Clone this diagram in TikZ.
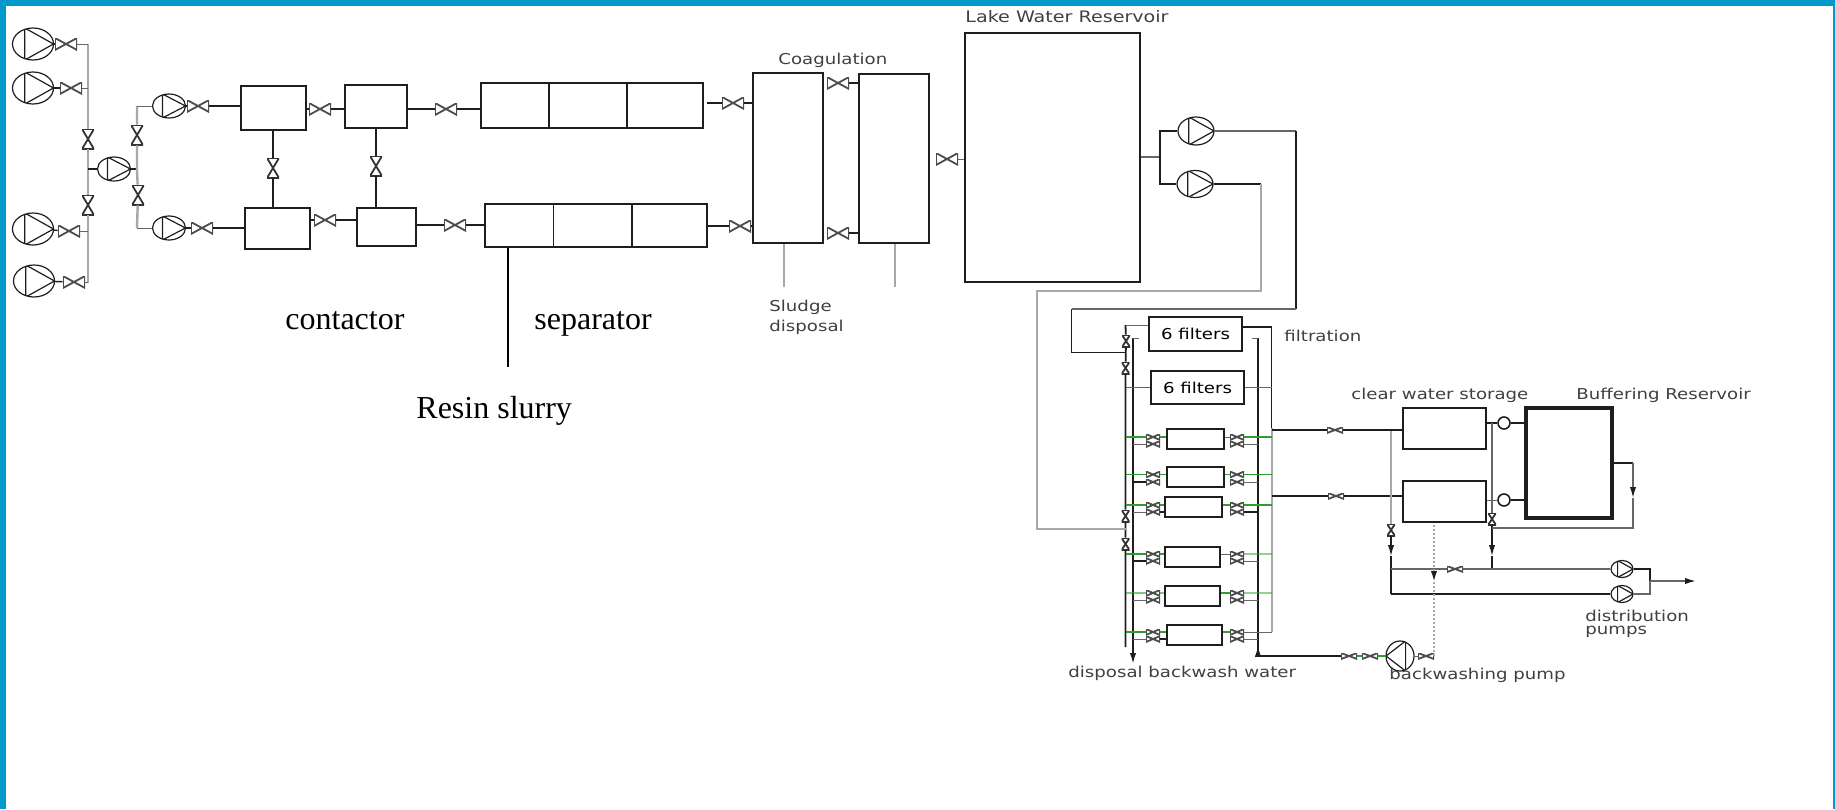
\documentclass[tikz,border=0pt]{standalone}
\usepackage{fontspec}
\setmainfont{Liberation Serif}
\setsansfont{DejaVu Sans}[FakeStretch=1.21]
\usepackage{xcolor}
\definecolor{FrameBlue}{HTML}{0099CC}
\definecolor{PipeGray}{HTML}{A8A8A8}
\definecolor{InkDark}{HTML}{1E1E1E}
\definecolor{RowGreen}{HTML}{2E9E2E}
\usetikzlibrary{arrows.meta,positioning,shapes.geometric,calc}

\begin{document}
\begin{tikzpicture}[x=0.5pt,y=-0.5pt,>={Latex[length=5.5pt,width=3.2pt,color=InkDark]},
unit/.style={draw=InkDark,line width=0.8pt,inner sep=0pt,minimum width=#1},
pipe/.style={draw=InkDark,line width=0.7pt},
thinpipe/.style={draw=black!60,line width=0.5pt},
graypipe/.style={draw=PipeGray,line width=1.2pt},
greenpipe/.style={draw=RowGreen,line width=0.7pt},
valve/.style={inner sep=0pt,minimum width=11pt,minimum height=6pt,path picture={
  \draw[black!70,line width=0.9pt] (path picture bounding box.north west) -- (path picture bounding box.south east) -- (path picture bounding box.north east) -- (path picture bounding box.south west) -- cycle;}},
vvalve/.style={inner sep=0pt,minimum width=6pt,minimum height=10pt,path picture={
  \draw[black!80,line width=0.9pt] (path picture bounding box.north west) -- (path picture bounding box.south east) -- (path picture bounding box.south west) -- (path picture bounding box.north east) -- cycle;}},
rowvalve/.style={valve,minimum width=7pt,minimum height=3pt},
tapvalve/.style={vvalve,minimum width=4pt,minimum height=6pt},
pump/.style 2 args={ellipse,draw=InkDark,line width=0.6pt,inner sep=0pt,minimum width=#1,minimum height=#2,path picture={
  \draw[InkDark,line width=0.6pt] ($(path picture bounding box.north west)!.3!(path picture bounding box.north east)$) -- (path picture bounding box.east) -- ($(path picture bounding box.south west)!.3!(path picture bounding box.south east)$) -- cycle;}},
backpump/.style={ellipse,draw=InkDark,line width=0.6pt,inner sep=0pt,minimum width=14pt,minimum height=15pt,path picture={
  \draw[InkDark,line width=0.6pt] ($(path picture bounding box.north east)!.3!(path picture bounding box.north west)$) -- (path picture bounding box.west) -- ($(path picture bounding box.south east)!.3!(path picture bounding box.south west)$) -- cycle;}},
tinypump/.style={circle,draw=InkDark,line width=0.8pt,inner sep=0pt,minimum size=6pt},
lbl/.style={font=\sffamily\fontsize{7.5}{8}\selectfont,text=black!75,inner sep=0pt,anchor=west},
big/.style={font=\fontsize{16}{18}\selectfont,inner sep=0pt,anchor=west}]
\useasboundingbox (0,0) rectangle (1835,809);
\fill[FrameBlue] (0,0) rectangle (1835,6);
\fill[FrameBlue] (0,0) rectangle (6,809);
\fill[FrameBlue] (1833,0) rectangle (1835,809);
% intake pumps
\node[pump={20.5pt}{16pt}] (p1) at (33,44) {};
\node[pump={20.5pt}{16pt}] (p2) at (33,88) {};
\node[pump={20.5pt}{16pt}] (p3) at (33,229) {};
\node[pump={20.5pt}{16pt}] (p4) at (34,281) {};
\node[valve] (v1) at (66,44) {};
\node[valve] (v2) at (71,88) {};
\node[valve] (v3) at (69,231) {};
\node[valve] (v4) at (74,282) {};
\coordinate (hdrAt) at (88,44);
\coordinate (hdrAb) at (88,283);
\node[vvalve] (hv1) at (88,139) {};
\node[vvalve] (hv2) at (88,205) {};
\node[pump={16.5pt}{12pt}] (p5) at (114,169) {};
\coordinate (hdrBm) at (137,169);
\coordinate (hdrBt) at (137,106);
\coordinate (hdrBb) at (137,228);
\node[vvalve] (hv3) at (137,135) {};
\node[vvalve] (hv4) at (138,195) {};
\node[pump={16.5pt}{12pt}] (p6) at (169,106) {};
\node[pump={16.5pt}{12pt}] (p7) at (169,228) {};
\node[valve] (v6) at (198,106) {};
\node[valve] (v7) at (202,228) {};
\draw[pipe] (p1) -- (v1);
\draw[pipe] (p2) -- (v2);
\draw[pipe] (p3) -- (v3);
\draw[pipe] (p4) -- (v4);
\draw[graypipe] (hdrAt) -- (hv1) -- (hv2) -- (hdrAb);
\draw[thinpipe] (v1) -- (hdrAt);
\draw[thinpipe] (v2) -- (v2 -| hdrAt);
\draw[thinpipe] (v3) -- (v3 -| hdrAt);
\draw[thinpipe] (v4) -- (v4 -| hdrAt);
\draw[pipe] (p5 -| hdrAt) -- (p5);
\draw[pipe] (p5) -- (hdrBm);
\draw[graypipe] (hdrBt) -- (hv3) -- (hdrBm) -- (hv4) -- (hdrBb);
\draw[thinpipe] (hdrBt) -- (p6);
\draw[thinpipe] (hdrBb) -- (p7);
\draw[pipe] (p6) -- (v6);
\draw[pipe] (p7) -- (v7);
% contactors and separators
\node[unit=32.5pt,minimum height=22pt] (con1) at (273.5,108) {};
\node[unit=31pt,minimum height=21.5pt] (con2) at (376,106.5) {};
\node[unit=32.5pt,minimum height=20.5pt] (con3) at (277.5,228.5) {};
\node[unit=29.5pt,minimum height=19pt] (con4) at (386.5,227) {};
\node[valve] (v8) at (320,109) {};
\node[valve] (v9) at (325,220) {};
\node[valve] (v10) at (446,109) {};
\node[valve] (v11) at (455,225) {};
\node[vvalve] (v12) at (273,168) {};
\node[vvalve] (v13) at (376,166) {};
\node[unit=34pt,minimum height=22.5pt] (sep1a) at (515,105.5) {};
\node[unit=39pt,minimum height=22.5pt] (sep1b) at (588,105.5) {};
\node[unit=38pt,minimum height=22.5pt] (sep1c) at (665,105.5) {};
\node[unit=34.25pt,minimum height=21.5pt] (sep2a) at (519.25,225.5) {};
\node[unit=39.25pt,minimum height=21.5pt] (sep2b) at (592.75,225.5) {};
\node[unit=37.5pt,minimum height=21.5pt] (sep2c) at (669.5,225.5) {};
\draw[pipe] (v6) -- (v6 -| con1.west);
\draw[pipe] (v7) -- (v7 -| con3.west);
\draw[pipe] (con1.east |- v8) -- (v8);
\draw[pipe] (v8) -- (v8 -| con2.west);
\draw[pipe] (con3.east |- v9) -- (v9);
\draw[pipe] (v9) -- (v9 -| con4.west);
\draw[pipe] (con2.east |- v10) -- (v10);
\draw[pipe] (v10) -- (v10 -| sep1a.west);
\draw[pipe] (con4.east |- v11) -- (v11);
\draw[pipe] (v11) -- (v11 -| sep2a.west);
\draw[line width=1pt,InkDark] (v12 |- con1.south) -- (v12);
\draw[line width=1pt,InkDark] (v12) -- (v12 |- con3.north);
\draw[line width=1pt,InkDark] (con2.south -| v13) -- (v13);
\draw[line width=1pt,InkDark] (v13) -- (v13 |- con4.north);
% resin feed
\coordinate (resinEnd) at (508,367);
\draw[line width=1.1pt,black] (resinEnd |- sep2a.south) -- (resinEnd);
% coagulation
\node[unit=35pt,minimum height=85pt] (coag1) at (788,158) {};
\node[unit=35pt,minimum height=84.5pt] (coag2) at (894,158.5) {};
\node[valve] (v14) at (733,103) {};
\node[valve] (v15) at (740,226) {};
\node[valve] (v16) at (838,83) {};
\node[valve] (v17) at (838,233) {};
\node[valve] (v18) at (947,159) {};
\coordinate (sludgeA) at (784,287);
\coordinate (sludgeB) at (895,287);
\draw[pipe] (sep1c.east |- v14) ++(3,0) -- (v14);
\draw[pipe] (v14) -- (v14 -| coag1.west);
\draw[pipe] (sep2c.east |- v15) -- (v15);
\draw[pipe] (v15) -- (v15 -| coag1.west);
\draw[pipe] (v16) -- (v16 -| coag2.west);
\draw[pipe] (v17) -- (v17 -| coag2.west);
\draw[graypipe] (sludgeA |- coag1.south) -- (sludgeA);
\draw[graypipe,line width=0.9pt] (sludgeB |- coag2.south) -- (sludgeB);
% lake reservoir and its pumps
\node[unit=87.5pt,minimum height=124.5pt] (lake) at (1052.5,157.5) {};
\node[pump={18pt}{14pt}] (p8) at (1196,131) {};
\node[pump={18pt}{13.5pt}] (p9) at (1195,184) {};
\coordinate (hdrC) at (1160,157);
\draw[thinpipe] (v18) -- (v18 -| lake.west);
\draw[thinpipe,line width=0.9pt] (lake.east |- hdrC) -- (hdrC);
\draw[pipe] (hdrC) |- (p8);
\draw[pipe] (hdrC) |- (p9);
% filters
\coordinate (hdrLt) at (1125.5,325);
\coordinate (hdrLb) at (1125.5,647);
\coordinate (hdrMt) at (1133,338);
\coordinate (hdrMb) at (1133,664);
\coordinate (hdrRt) at (1258,338);
\coordinate (hdrRb) at (1258,656);
\coordinate (hdrOt) at (1271.5,327);
\coordinate (hdrOb) at (1271.5,632);
\node[unit=46.5pt,minimum height=17pt,font=\sffamily\fontsize{7.5}{8}\selectfont] (flt1) at (1195.5,334) {6 filters};
\node[unit=46.5pt,minimum height=16.5pt,font=\sffamily\fontsize{7.5}{8}\selectfont] (flt2) at (1197.5,387.5) {6 filters};
\node[unit=28.5pt,minimum height=10pt] (flt3) at (1195.5,439) {};
\node[unit=28.5pt,minimum height=10pt] (flt4) at (1195.5,477) {};
\node[unit=28.5pt,minimum height=10pt] (flt5) at (1193.5,507) {};
\node[unit=27.5pt,minimum height=10pt] (flt6) at (1192.5,557) {};
\node[unit=27.5pt,minimum height=10pt] (flt7) at (1192.5,596) {};
\node[unit=27.5pt,minimum height=10pt] (flt8) at (1194.5,635) {};
\node[tapvalve] (tv1) at (1126,341) {};
\node[tapvalve] (tv2) at (1125.5,368) {};
\node[tapvalve] (tv3) at (1125.5,516) {};
\node[tapvalve] (tv4) at (1125.5,544) {};
\draw[pipe,line width=0.9pt] (hdrLt) -- (tv1) -- (tv2) -- (tv3) -- (tv4) -- (hdrLb);
\draw[pipe,line width=0.9pt,->] (hdrMt) -- (hdrMb);
\draw[pipe,line width=0.9pt] (hdrRt) -- (hdrRb);
\draw[pipe] (hdrOt) -- (hdrOt |- flt3.north);
\draw[graypipe,line width=1pt] (hdrOt |- flt3.north) -- (hdrOb);
\draw[pipe] (hdrOt) -- (hdrOt -| flt1.east);
\draw[thinpipe] (hdrLt) -- (hdrLt -| flt1.west);
\draw[thinpipe] (hdrLt |- flt2) -- (flt2);
\draw[thinpipe] (flt2) -- (hdrOt |- flt2);
\draw[thinpipe,dashed] (hdrMt) -- ++(12,0);
\draw[thinpipe,dashed] (hdrRt) -- ++(-12,0);
% filter rows
\node[rowvalve] (a1) at (1153,437) {};
\node[rowvalve] (b1) at (1153,444) {};
\node[rowvalve] (c1) at (1237,437) {};
\node[rowvalve] (d1) at (1237,444) {};
\draw[greenpipe] (hdrLt |- a1) -- (a1);
\draw[greenpipe] (a1) -- (a1 -| flt3.west);
\draw[thinpipe] (hdrMt |- b1) -- (b1);
\draw[thinpipe] (flt3.east |- c1) -- (c1);
\draw[greenpipe] (c1) -- (hdrOt |- c1);
\draw[thinpipe] (d1) -- (hdrRt |- d1);
\node[rowvalve] (a2) at (1153,474.5) {};
\node[rowvalve] (b2) at (1153,482) {};
\node[rowvalve] (c2) at (1237,474.5) {};
\node[rowvalve] (d2) at (1237,482) {};
\draw[greenpipe] (hdrLt |- a2) -- (a2);
\draw[greenpipe] (a2) -- (a2 -| flt4.west);
\draw[pipe] (hdrMt |- b2) -- (b2);
\draw[greenpipe] (flt4.east |- c2) -- (c2);
\draw[greenpipe] (c2) -- (hdrOt |- c2);
\draw[thinpipe] (d2) -- (hdrRt |- d2);
\node[rowvalve] (a3) at (1153,505) {};
\node[rowvalve] (b3) at (1153,512) {};
\node[rowvalve] (c3) at (1237,505) {};
\node[rowvalve] (d3) at (1237,512) {};
\draw[greenpipe] (hdrLt |- a3) -- (a3);
\draw[greenpipe] (a3) -- (a3 -| flt5.west);
\draw[thinpipe] (hdrMt |- b3) -- (b3);
\draw[pipe] (b3) -- (b3 -| flt5.west);
\draw[greenpipe] (flt5.east |- c3) -- (c3);
\draw[greenpipe] (c3) -- (hdrOt |- c3);
\draw[pipe] (d3) -- (hdrRt |- d3);
\node[rowvalve] (a4) at (1153,554) {};
\node[rowvalve] (b4) at (1153,561) {};
\node[rowvalve] (c4) at (1237,554) {};
\node[rowvalve] (d4) at (1237,561) {};
\draw[greenpipe] (hdrLt |- a4) -- (a4);
\draw[greenpipe] (a4) -- (a4 -| flt6.west);
\draw[pipe] (hdrMt |- b4) -- (b4);
\draw[thinpipe] (flt6.east |- c4) -- (c4);
\draw[greenpipe,opacity=.5] (c4) -- (hdrOt |- c4);
\draw[thinpipe] (d4) -- (hdrRt |- d4);
\node[rowvalve] (a5) at (1153,593) {};
\node[rowvalve] (b5) at (1153,600) {};
\node[rowvalve] (c5) at (1237,593) {};
\node[rowvalve] (d5) at (1237,600) {};
\draw[greenpipe,opacity=.6] (hdrLt |- a5) -- (a5);
\draw[greenpipe,opacity=.6] (a5) -- (a5 -| flt7.west);
\draw[thinpipe] (hdrMt |- b5) -- (b5);
\draw[greenpipe] (flt7.east |- c5) -- (c5);
\draw[greenpipe,opacity=.5] (c5) -- (hdrOt |- c5);
\draw[thinpipe] (d5) -- (hdrRt |- d5);
\node[rowvalve] (a6) at (1153,632) {};
\node[rowvalve] (b6) at (1153,639) {};
\node[rowvalve] (c6) at (1237,632) {};
\node[rowvalve] (d6) at (1237,639) {};
\draw[greenpipe] (hdrLt |- a6) -- (a6);
\draw[greenpipe] (a6) -- (a6 -| flt8.west);
\draw[thinpipe] (hdrMt |- b6) -- (b6);
\draw[pipe] (b6) -- (b6 -| flt8.west);
\draw[greenpipe] (flt8.east |- c6) -- (c6);
\draw[thinpipe] (c6) -- (hdrOt |- c6);
\draw[thinpipe] (d6) -- (hdrRt |- d6);
% feed lines from lake pumps
\coordinate (feedA) at (1296,131);
\coordinate (feedB) at (1296,309);
\coordinate (feedC) at (1071.5,309);
\coordinate (feedD) at (1071.5,352.5);
\coordinate (feedE) at (1261,184);
\coordinate (feedF) at (1261,291);
\coordinate (feedG) at (1037,291);
\coordinate (feedH) at (1037,529);
\draw[thinpipe,line width=.8pt] (p8) -- (feedA);
\draw[pipe] (feedA) -- (feedB);
\draw[thinpipe,line width=.8pt] (feedB) -- (feedC);
\draw[pipe] (feedC) -- (feedD) -- (hdrLt |- feedD);
\draw[pipe] (p9) -- (feedE);
\draw[graypipe] (feedE) -- (feedF) -- (feedG) -- (feedH) -- (hdrLt |- feedH);
% clear water storage
\node[unit=41.5pt,minimum height=20.5pt] (store1) at (1444.5,428.5) {};
\node[unit=41.5pt,minimum height=20.5pt] (store2) at (1444.5,501.5) {};
\node[unit=43pt,minimum height=55pt,line width=1.8pt] (buffer) at (1569,463) {};
\node[rowvalve,minimum width=8pt] (v19) at (1335,430) {};
\node[rowvalve,minimum width=8pt] (v20) at (1336,496) {};
\node[tinypump] (sp1) at (1504,423) {};
\node[tinypump] (sp2) at (1504,500) {};
\draw[pipe] (hdrOt |- v19) -- (v19);
\draw[pipe] (v19) -- (v19 -| store1.west);
\draw[pipe] (hdrOt |- v20) -- (v20);
\draw[pipe] (v20) -- (v20 -| store2.west);
\draw[pipe] (store1.east |- sp1) -- (sp1);
\draw[pipe] (sp1) -- (sp1 -| buffer.west);
\draw[thinpipe] (store2.east |- sp2) -- (sp2);
\draw[pipe] (sp2) -- (sp2 -| buffer.west);
% distribution side
\coordinate (vertA) at (1391,431);
\coordinate (arrA) at (1391,556);
\coordinate (vertB) at (1391,594);
\coordinate (vertC) at (1492,423);
\coordinate (arrC) at (1492,556);
\coordinate (vertD) at (1492,569);
\coordinate (retA) at (1633,463);
\coordinate (arrR) at (1633,498);
\coordinate (retB) at (1633,528);
\coordinate (retC) at (1492,528);
\coordinate (outJ) at (1650,581);
\coordinate (outEnd) at (1696,581);
\node[tapvalve] (v21) at (1391,530) {};
\node[tapvalve] (v22) at (1492,519) {};
\node[rowvalve,minimum width=8pt] (v23) at (1455,569) {};
\node[pump={11pt}{8.5pt}] (p10) at (1622,569) {};
\node[pump={11pt}{8.5pt}] (p11) at (1622,594) {};
\draw[graypipe,line width=.9pt] (vertA) -- (v21);
\draw[pipe,->] (v21) -- (arrA);
\draw[pipe] (arrA) -- (vertB);
\draw[thinpipe,line width=.8pt] (vertC) -- (v22);
\draw[pipe] (v22) -- (retC);
\draw[pipe,->] (retC) -- (arrC);
\draw[pipe] (arrC) -- (vertD);
\draw[thinpipe,line width=.8pt] (vertA |- v23) -- (v23);
\draw[thinpipe,line width=.8pt] (v23) -- (p10);
\draw[pipe] (vertB) -- (p11);
\draw[pipe] (buffer.east |- retA) -- (retA);
\draw[thinpipe,line width=.8pt,->] (retA) -- (arrR);
\draw[thinpipe,line width=.8pt] (arrR) -- (retB) -- (retC);
\draw[pipe] (p10) -| (outJ);
\draw[thinpipe,line width=.8pt] (p11) -| (outJ);
\draw[thinpipe,line width=.8pt,->] (outJ) -- (outEnd);
% backwash
\coordinate (dotTop) at (1434,525);
\coordinate (arrB) at (1434,582);
\node[backpump] (p12) at (1400,656) {};
\node[rowvalve,minimum width=8pt] (v24) at (1426,656) {};
\node[rowvalve,minimum width=8pt] (v25) at (1370,656) {};
\node[rowvalve,minimum width=8pt] (v26) at (1349,656) {};
\draw[PipeGray,line width=1pt,densely dotted,->] (dotTop) -- (arrB);
\draw[PipeGray,line width=1pt,densely dotted] (arrB) -- (dotTop |- v24);
\draw[thinpipe] (p12) -- (v24);
\draw[greenpipe] (v25) -- (p12);
\draw[greenpipe] (v26) -- (v25);
\draw[pipe,->] (v26) -- (hdrRb) -- (hdrRb |- flt8.south);
% labels
\node[big] (lblContactor) at (285,321) {contactor};
\node[big] (lblSeparator) at (534,324) {separator};
\node[big] (lblResin) at (416,411) {Resin slurry};
\node[lbl] (lblCoag) at (778,60) {Coagulation};
\node[lbl] (lblSludge) at (769,307) {Sludge};
\node[lbl] (lblDisposal) at (769,327) {disposal};
\node[lbl,font=\sffamily\fontsize{7.9}{9}\selectfont] (lblLake) at (965,17) {Lake Water Reservoir};
\node[lbl] (lblFiltration) at (1284,336) {filtration};
\node[lbl] (lblClear) at (1351,395) {clear water storage};
\node[lbl] (lblBuffer) at (1576,395) {Buffering Reservoir};
\node[lbl] (lblDistr) at (1585,616) {distribution};
\node[lbl] (lblPumps) at (1585,632) {pumps};
\node[lbl] (lblBack) at (1389,675) {backwashing pump};
\node[lbl] (lblWaste) at (1068,673) {disposal backwash water};
\end{tikzpicture}
\end{document}
